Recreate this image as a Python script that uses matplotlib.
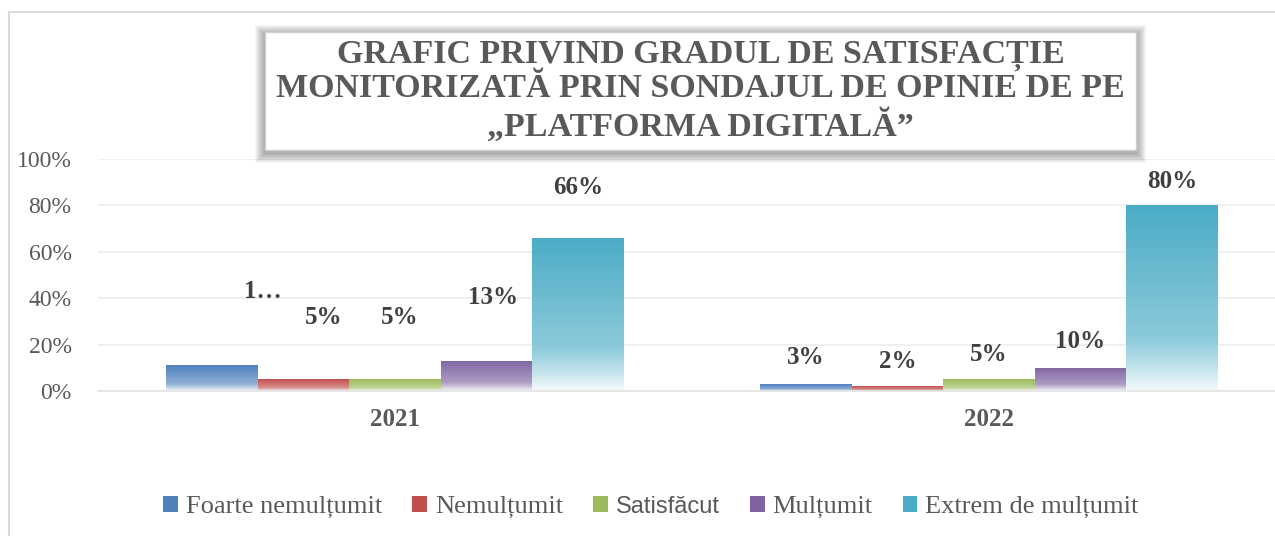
import numpy as np
import matplotlib.pyplot as plt
from matplotlib.patches import Rectangle, Patch
from matplotlib.colors import to_rgb

# data
years = ["2021", "2022"]
series = ["Foarte nemulțumit", "Nemulțumit", "Satisfăcut", "Mulțumit", "Extrem de mulțumit"]
values_2021 = [11, 5, 5, 13, 66]
values_2022 = [3, 2, 5, 10, 80]
labels_2021 = ["1…", "5%", "5%", "13%", "66%"]
labels_2022 = ["3%", "2%", "5%", "10%", "80%"]
yticks = [0, 20, 40, 60, 80, 100]

colors = ["#4F81BD", "#C0504D", "#9BBB59", "#8064A2", "#4BACC6"]
# label offsets in pixels (dx, dy) above each bar top, as placed in the original
off_2021 = [(51, 74), (20, 62), (5, 62), (7, 63), (0, 50)]
off_2022 = [(0, 27), (0, 25), (0, 25), (0, 26), (0, 24)]

serif = ["Liberation Serif", "DejaVu Serif"]
grey = "#595959"

fig = plt.figure(figsize=(12.75, 5.36), dpi=100)
W, H = 1275, 536

# outer chart border (cropped on right/bottom)
fig.patches.append(Rectangle((9 / W, -0.1), 1.2, 1 - 12 / H + 0.1, transform=fig.transFigure,
                             fill=False, edgecolor="#d9d9d9", lw=1.5, zorder=0))

ax = fig.add_axes([98 / W, (536 - 391) / H, 1188 / W, 232 / H])
ax.set_xlim(-0.5, 1.5)
ax.set_ylim(0, 100)

bw = 0.154
x = np.arange(len(years))


def gradient_bar(ax, x0, w, h, color):
    # vertical gradient: full colour on top, fading to white at the bottom
    c = np.array(to_rgb(color))
    t = np.linspace(0, 1, 200)[:, None]  # 0 top -> 1 bottom
    f = np.where(t < 0.7, 0.35 * t / 0.7, 0.35 + 0.6 * ((t - 0.7) / 0.3) ** 1.2)
    img = c[None, :] * (1 - f) + np.ones(3)[None, :] * f
    img = img[:, None, :]
    rect = Rectangle((x0, 0), w, h, facecolor="none", edgecolor="none")
    ax.add_patch(rect)
    im = ax.imshow(img, extent=(x0, x0 + w, 0, h), aspect="auto", zorder=2, interpolation="bilinear")
    im.set_clip_path(rect)


all_vals = [values_2021, values_2022]
all_labels = [labels_2021, labels_2022]
all_offs = [off_2021, off_2022]
for gi in range(len(years)):
    for si in range(len(series)):
        x0 = x[gi] - 2.5 * bw + si * bw
        v = all_vals[gi][si]
        gradient_bar(ax, x0, bw, v, colors[si])
        dx, dy = all_offs[gi][si]
        ax.annotate(all_labels[gi][si], (x0 + bw / 2, v), xytext=(dx, dy),
                    textcoords="offset pixels", ha="center", va="center",
                    fontsize=18, fontweight="bold", color="#404040", family=serif, zorder=5)

ax.set_xlim(-0.5, 1.5)
ax.set_ylim(0, 100)
ax.set_yticks(yticks)
ax.set_yticklabels([f"{v}%" for v in yticks], family=serif, fontsize=17, color=grey)
ax.set_xticks(x)
ax.set_xticklabels(years, family=serif, fontsize=18, fontweight="bold", color=grey)
ax.tick_params(axis="y", length=0, pad=19)
ax.tick_params(axis="x", length=0, pad=12)
ax.grid(axis="y", color="#ececec", lw=1.2, zorder=0)
ax.set_axisbelow(True)
for s in ["top", "right", "left"]:
    ax.spines[s].set_visible(False)
ax.spines["bottom"].set_color("#e3e3e3")
ax.spines["bottom"].set_linewidth(1.2)

# title box with soft shadow
bx0, by0, bx1, by1 = 265, 32, 1136, 150
for k in range(10, 0, -1):
    fig.patches.append(Rectangle(((bx0 - k) / W, 1 - (by1 + k + 3) / H), (bx1 - bx0 + 2 * k) / W,
                                 (by1 - by0 + 2 * k) / H, transform=fig.transFigure,
                                 facecolor="black", edgecolor="none", alpha=0.035, zorder=1))
fig.patches.append(Rectangle((bx0 / W, 1 - by1 / H), (bx1 - bx0) / W, (by1 - by0) / H,
                             transform=fig.transFigure, facecolor="white",
                             edgecolor="#d0d0d0", lw=1, zorder=2))
fig.text((bx0 + bx1) / 2 / W, 1 - 91 / H,
         "GRAFIC PRIVIND GRADUL DE SATISFACȚIE\nMONITORIZATĂ PRIN SONDAJUL DE OPINIE DE PE\n„PLATFORMA DIGITALĂ”",
         ha="center", va="center", fontsize=24.5, fontweight="bold", color=grey,
         family=serif, linespacing=1.12, zorder=3)

handles = [Patch(facecolor=c, edgecolor="none") for c in colors]
leg = fig.legend(handles, series, loc="center", bbox_to_anchor=(651 / W, 1 - 507 / H), ncol=5,
                 frameon=False, handlelength=0.55, handleheight=0.55, handletextpad=0.3,
                 columnspacing=1.15, prop={"family": serif, "size": 19})
for t in leg.get_texts():
    t.set_color(grey)
leg.get_texts()[2].set_family(["Liberation Sans", "DejaVu Sans"])
leg.get_texts()[2].set_fontsize(17)

fig.savefig("out.png", dpi=100)
